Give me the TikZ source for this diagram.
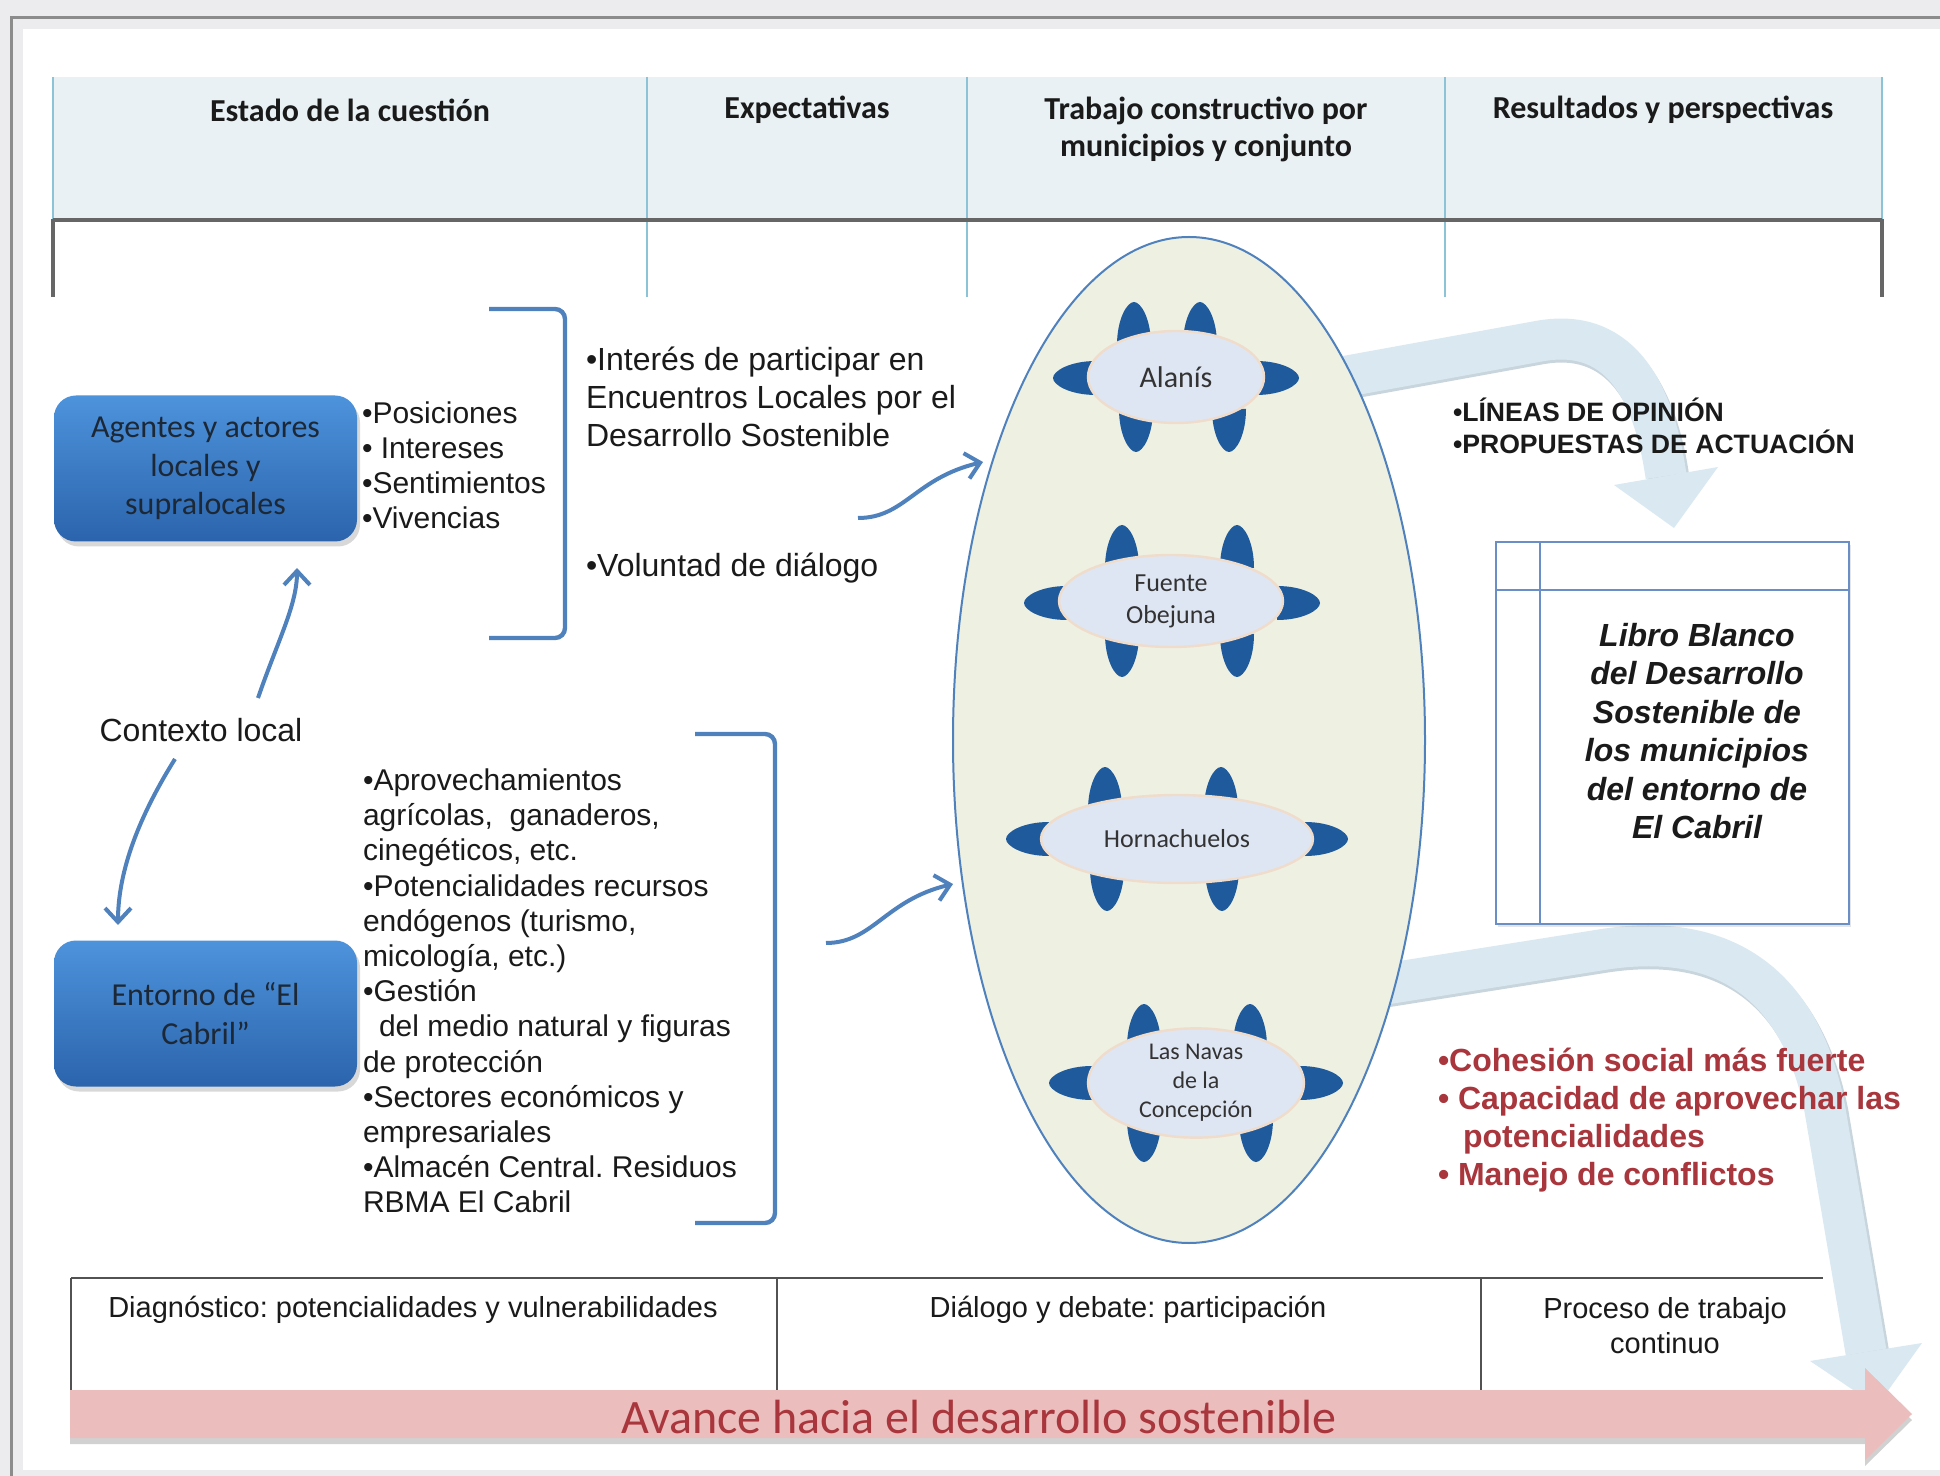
\documentclass[tikz,border=0pt]{standalone}
\usepackage{fontspec}
\setmainfont{Liberation Sans}
\newfontfamily\calibri{Carlito}
\usetikzlibrary{arrows.meta,shadows,shapes.geometric}
\definecolor{bggray}{HTML}{ECECEE}
\definecolor{framegray}{HTML}{8C8C8C}
\definecolor{hdrfill}{HTML}{E9F1F4}
\definecolor{hdrblue}{HTML}{8DC3D6}
\definecolor{darkgr}{HTML}{666666}
\definecolor{boxtop}{HTML}{4D93DC}
\definecolor{boxbot}{HTML}{2B64AC}
\definecolor{boxtext}{HTML}{1D2836}
\definecolor{linkblue}{HTML}{4F81BD}
\definecolor{ellfill}{HTML}{EEF0E2}
\definecolor{tablefill}{HTML}{DFE6F3}
\definecolor{tabledraw}{HTML}{F0DCCB}
\definecolor{chairblue}{HTML}{1F5A9C}
\definecolor{bandblue}{HTML}{DAE9F1}
\definecolor{bandshadow}{HTML}{C9D5DC}
\definecolor{redfill}{HTML}{EBBDBD}
\definecolor{redtxt}{HTML}{A8363C}
\definecolor{txt}{HTML}{1A1A1A}
\definecolor{librodraw}{HTML}{6A8FC6}
\tikzset{
  hdrline/.style={draw=hdrblue, line width=1pt},
  darkline/.style={draw=darkgr, line width=2pt},
  tblline/.style={draw=darkgr!80!black, line width=1.3pt},
  hdrtext/.style={font=\calibri\bfseries\fontsize{16}{18.5}\selectfont, text=txt, align=center},
  bluebox/.style={rounded corners=11pt, top color=boxtop, bottom color=boxbot, draw=none,
    drop shadow={opacity=0.3, shadow xshift=1.5pt, shadow yshift=-2.5pt},
    minimum width=151.5pt, minimum height=73pt, align=center, text=boxtext,
    font=\calibri\fontsize{16}{19.25}\selectfont},
  thinarrow/.style={draw=linkblue, line width=2pt, -{Straight Barb[length=7pt,width=13pt]}},
  bracket/.style={draw=linkblue, line width=2.2pt, rounded corners=5pt},
  bandline/.style={draw=bandblue, line width=20.5pt},
  bandshade/.style={draw=bandshadow, line width=20.5pt},
  tablestyle/.style={ellipse, fill=tablefill, draw=tabledraw, line width=1.2pt, text=black!80,
    align=center, inner sep=0pt},
  listtext/.style={anchor=west, align=left, text=txt},
  pics/chU/.style={code={\fill[chairblue] (-17,0) .. controls (-17,-26) and (-7,-43) .. (0,-43) .. controls (7,-43) and (17,-26) .. (17,0) -- cycle;}},
  pics/chD/.style={code={\fill[chairblue] (-17,0) .. controls (-17,26) and (-7,43) .. (0,43) .. controls (7,43) and (17,26) .. (17,0) -- cycle;}},
  pics/chL/.style={code={\fill[chairblue] (0,-17) .. controls (-26,-17) and (-43,-7) .. (-43,0) .. controls (-43,7) and (-26,17) .. (0,17) -- cycle;}},
  pics/chR/.style={code={\fill[chairblue] (0,-17) .. controls (26,-17) and (43,-7) .. (43,0) .. controls (43,7) and (26,17) .. (0,17) -- cycle;}},
}
\begin{document}
\frenchspacing
\begin{tikzpicture}[x=0.5pt,y=-0.5pt, every node/.style={inner sep=0pt, outer sep=0pt}]
\useasboundingbox (0,0) rectangle (1940,1476);
% frame
\fill[bggray] (0,0) rectangle (1940,1476);
\draw[framegray, line width=1.5pt] (11.5,1480) -- (11.5,17.5) -- (1945,17.5);
\fill[white] (23,29) rectangle (1940,1470);

% header table
\fill[hdrfill] (53,77) rectangle (1882,220);
\foreach \x in {53,647,967,1445,1882} \draw[hdrline] (\x,77) -- (\x,220);
\foreach \x in {647,967,1445} \draw[hdrline] (\x,220) -- (\x,297);
\draw[darkline] (53,220) -- (1882,220);
\draw[darkline] (53,219) -- (53,297);
\draw[darkline] (1882,219) -- (1882,297);
\node[hdrtext] (h1) at (350,110) {Estado de la cuestión};
\node[hdrtext] (h2) at (807,110) {Expectativas};
\node[hdrtext] (h3) at (1206,129) {Trabajo constructivo por\\municipios y conjunto};
\node[hdrtext] (h4) at (1663,110) {Resultados y perspectivas};

% bottom table
\draw[tblline] (71,1278) -- (1823,1278);
\draw[tblline] (71,1278) -- (71,1400);
\draw[tblline] (777,1278) -- (777,1392);
\draw[tblline] (1481,1278) -- (1481,1392);
\node[font=\fontsize{14.5}{17}\selectfont, text=txt] (b1) at (413,1310) {Diagnóstico: potencialidades y vulnerabilidades};
\node[font=\fontsize{14.5}{17}\selectfont, text=txt] (b2) at (1128,1310) {Diálogo y debate: participación};
\node[font=\fontsize{14.5}{17.5}\selectfont, text=txt, align=center] (b3) at (1665,1326) {Proceso de trabajo\\continuo};

% light blue band arrows
\draw[bandshade] (1320,384) -- (1540,344) .. controls (1625,329) and (1658,403) .. (1669,479);
\draw[bandline] (1320,381) -- (1540,341) .. controls (1625,326) and (1655,400) .. (1666,476);
\fill[bandblue] (1718,467) -- (1674,528) -- (1614,485) -- cycle;
\draw[bandshade] (1360,991) -- (1600,953) .. controls (1720,933) and (1802,983) .. (1828,1113) -- (1869,1355);
\draw[bandline] (1360,988) -- (1600,950) .. controls (1720,930) and (1800,980) .. (1825,1110) -- (1866,1352);
\fill[bandblue] (1922,1343) -- (1877,1406) -- (1810,1361) -- cycle;

% red progress arrow
\fill[black!18] (70,1396) -- (1865,1396) -- (1865,1374) -- (1912,1420) -- (1865,1466) -- (1865,1444) -- (70,1444) -- cycle;
\fill[redfill] (70,1390) -- (1865,1390) -- (1865,1368) -- (1912,1414) -- (1865,1460) -- (1865,1438) -- (70,1438) -- cycle;
\node[font=\calibri\fontsize{24}{28}\selectfont, text=redtxt] (avance) at (979,1417) {Avance hacia el desarrollo sostenible};

% big ellipse
\node[ellipse, draw=linkblue, fill=ellfill, line width=1pt, minimum width=236pt, minimum height=503pt] (grupo) at (1189,740) {};

% Alanis
\pic at (1134,345) {chU}; \pic at (1200,345) {chU};
\pic at (1136,409) {chD}; \pic at (1229,409) {chD};
\pic at (1096,378) {chL}; \pic at (1256,378) {chR};
\node[tablestyle, minimum width=88pt, minimum height=46pt, font=\calibri\fontsize{15}{17}\selectfont] (alanis) at (1176,377) {Alanís};
% Fuente Obejuna
\pic at (1122,568) {chU}; \pic at (1237,568) {chU};
\pic at (1122,634) {chD}; \pic at (1237,634) {chD};
\pic at (1067,603) {chL}; \pic at (1277,603) {chR};
\node[tablestyle, minimum width=112pt, minimum height=46pt, font=\calibri\fontsize{13}{16}\selectfont] (fuente) at (1171,601) {Fuente\\Obejuna};
% Hornachuelos
\pic at (1105,810) {chU}; \pic at (1221,810) {chU};
\pic at (1107,868) {chD}; \pic at (1222,868) {chD};
\pic at (1049,839) {chL}; \pic at (1305,839) {chR};
\node[tablestyle, minimum width=136pt, minimum height=44pt, font=\calibri\fontsize{13}{16}\selectfont] (horna) at (1177,839) {Hornachuelos};
% Las Navas
\pic at (1144,1047) {chU}; \pic at (1250,1047) {chU};
\pic at (1144,1119) {chD}; \pic at (1256,1119) {chD};
\pic at (1092,1083) {chL}; \pic at (1300,1083) {chR};
\node[tablestyle, minimum width=108pt, minimum height=50pt, font=\calibri\fontsize{12}{14.5}\selectfont] (navas) at (1196,1083) {Las Navas\\de la\\Concepción};

% Libro Blanco box
\node[draw=librodraw, fill=white, line width=1.4pt, minimum width=176.5pt, minimum height=191pt,
  drop shadow={opacity=0.2, shadow xshift=1pt, shadow yshift=-1.5pt}] (libro) at (1672.5,733) {};
\draw[draw=librodraw, line width=1.2pt] (1540,542) -- (1540,924);
\draw[draw=librodraw, line width=1.2pt] (1496,590) -- (1849,590);
\node[font=\bfseries\itshape\fontsize{16}{19.2}\selectfont, align=center, text=txt] (librot) at (1697,731)
  {Libro Blanco\\del Desarrollo\\Sostenible de\\los municipios\\del entorno de\\El Cabril};

% blue boxes
\node[bluebox] (agentes) at (205.5,468.5) {Agentes y actores\\locales y\\supralocales};
\node[bluebox] (entorno) at (205.5,1013.5) {Entorno de “El\\Cabril”};

% texts
\node[listtext, font=\fontsize{15}{17.5}\selectfont] (cual) at (362,465) {•Posiciones\\• Intereses\\•Sentimientos\\•Vivencias};
\node[listtext, font=\fontsize{16}{19}\selectfont] (expect) at (586,397) {•Interés de participar en\\Encuentros Locales por el\\Desarrollo Sostenible};
\node[listtext, font=\fontsize{16}{19}\selectfont] (volun) at (586,568) {•Voluntad de diálogo};
\node[font=\fontsize{16}{19}\selectfont, text=txt] (ctx) at (201,730) {Contexto local};
\node[listtext, font=\fontsize{15}{17.6}\selectfont] (recursos) at (363,991)
  {•Aprovechamientos\\agrícolas,\ \ ganaderos,\\cinegéticos, etc.\\•Potencialidades recursos\\endógenos (turismo,\\micología, etc.)\\•Gestión\\\hspace*{8pt}del medio natural y figuras\\de protección\\•Sectores económicos y\\empresariales\\•Almacén Central. Residuos\\RBMA El Cabril};
\node[listtext, font=\bfseries\fontsize{13.3}{16}\selectfont] (lineas) at (1453,426) {•LÍNEAS DE OPINIÓN\\•PROPUESTAS DE ACTUACIÓN};
\node[anchor=west, align=left, text=redtxt, font=\bfseries\fontsize{16}{19}\selectfont] (result) at (1438,1120)
  {•Cohesión social más fuerte\\• Capacidad de aprovechar las\\\hspace*{12.5pt}potencialidades\\• Manejo de conflictos};

% brackets
\draw[bracket] (489,309) -- (565,309) -- (565,638) -- (489,638);
\draw[bracket] (695,734) -- (775,734) -- (775,1223) -- (695,1223);

% thin arrows
\coordinate (c1s) at (258,698); \coordinate (c1e) at (297,568);
\draw[thinarrow] (c1s) .. controls (278,640) and (297,605) .. (c1e);
\coordinate (c2s) at (175,759); \coordinate (c2e) at (118,925);
\draw[thinarrow] (c2s) .. controls (140,815) and (118,870) .. (c2e);
\coordinate (s1s) at (858,518); \coordinate (s1e) at (983,462);
\draw[thinarrow] (s1s) .. controls (905,518) and (915,478) .. (s1e);
\coordinate (s2s) at (826,943); \coordinate (s2e) at (953,884);
\draw[thinarrow] (s2s) .. controls (873,943) and (885,900) .. (s2e);
\end{tikzpicture}
\end{document}
